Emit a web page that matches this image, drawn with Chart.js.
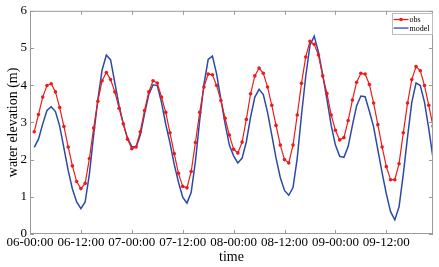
<!DOCTYPE html>
<html><head><meta charset="utf-8">
<script src="https://cdn.jsdelivr.net/npm/chart.js@4/dist/chart.umd.min.js"></script>
<style>html,body{margin:0;padding:0;background:#fff}#wrap{width:439px;height:267px;position:relative}canvas{display:block}</style>
</head><body><div id="wrap"><canvas id="c" width="439" height="267" style="width:439px;height:267px"></canvas></div>
<script>
const hours = [1,2,3,4,5,6,7,8,9,10,11,12,13,14,15,16,17,18,19,20,21,22,23,24,25,26,27,28,29,30,31,32,33,34,35,36,37,38,39,40,41,42,43,44,45,46,47,48,49,50,51,52,53,54,55,56,57,58,59,60,61,62,63,64,65,66,67,68,69,70,71,72,73,74,75,76,77,78,79,80,81,82,83,84,85,86,87,88,89,90,91,92,93,94,95];
const obs = [2.75,3.21,3.68,3.99,4.04,3.82,3.40,2.89,2.34,1.83,1.41,1.22,1.36,2.03,2.85,3.57,4.12,4.34,4.15,3.82,3.38,2.96,2.55,2.29,2.34,2.75,3.32,3.82,4.12,4.06,3.68,3.27,2.72,2.16,1.63,1.28,1.24,1.68,2.46,3.27,3.95,4.30,4.28,3.99,3.59,3.11,2.66,2.28,2.18,2.47,3.08,3.77,4.25,4.46,4.32,3.95,3.46,2.92,2.39,2.00,1.91,2.39,3.20,4.05,4.76,5.18,5.10,4.81,4.25,3.78,3.20,2.79,2.53,2.59,3.05,3.60,4.08,4.32,4.30,4.02,3.52,2.94,2.34,1.81,1.46,1.46,1.89,2.72,3.52,4.15,4.50,4.39,3.99,3.46,2.90];
const model = [2.33,2.55,2.96,3.32,3.42,3.29,2.90,2.31,1.71,1.21,0.86,0.68,0.86,1.61,2.66,3.62,4.41,4.81,4.68,4.06,3.45,2.96,2.57,2.35,2.33,2.66,3.23,3.75,4.01,3.99,3.54,2.95,2.45,1.87,1.39,0.99,0.83,1.12,1.96,3.05,4.02,4.69,4.78,4.30,3.62,2.96,2.39,2.10,1.91,2.04,2.48,3.14,3.68,3.89,3.75,3.27,2.66,2.04,1.52,1.17,1.04,1.25,2.04,3.20,4.24,5.07,5.32,4.89,4.28,3.62,2.92,2.39,2.09,2.06,2.35,2.92,3.45,3.71,3.69,3.30,2.88,2.26,1.65,1.08,0.60,0.38,0.73,1.61,2.61,3.54,4.06,3.99,3.54,2.83,2.04];
const tickHours = [0,12,24,36,48,60,72,84];
const tickLabels = ['06-00:00','06-12:00','07-00:00','07-12:00','08-00:00','08-12:00','09-00:00','09-12:00'];
const seriesNames = ['obs','model'];
const yTicks = [0,1,2,3,4,5,6];

const FONT = "'Liberation Serif','Times New Roman',serif";
const RED = '#ee1b1b';
const BLUE = '#2b4aa6';
const FRAME = '#9a9a9a';

const toXY = (ys) => hours.map((h, i) => ({x: h, y: ys[i]}));

const framePlugin = {
  id: 'frame',
  afterDraw(chart) {
    const {ctx, chartArea: a, scales: {x, y}} = chart;
    ctx.save();
    ctx.strokeStyle = FRAME;
    ctx.lineWidth = 1;
    ctx.strokeRect(a.left + 0.5, a.top + 0.5, a.right - a.left - 1, a.bottom - a.top - 1);
    const L = 4;
    ctx.beginPath();
    x.ticks.forEach(t => {
      const px = Math.round(x.getPixelForValue(t.value)) + 0.5;
      ctx.moveTo(px, a.bottom); ctx.lineTo(px, a.bottom - L);
      ctx.moveTo(px, a.top); ctx.lineTo(px, a.top + L);
    });
    y.ticks.forEach(t => {
      const py = Math.round(y.getPixelForValue(t.value)) + 0.5;
      ctx.moveTo(a.left, py); ctx.lineTo(a.left + L, py);
      ctx.moveTo(a.right, py); ctx.lineTo(a.right - L, py);
    });
    ctx.stroke();

    // legend box inside top-right of plot area
    const ds = chart.data.datasets;
    const bw = 40, rowH = 8.5;
    const bh = ds.length * rowH + 4;
    const bx = a.right - bw - 1.5, by = a.top + 2.5;
    ctx.fillStyle = '#fff';
    ctx.fillRect(bx, by, bw, bh);
    ctx.strokeStyle = '#bdbdbd';
    ctx.strokeRect(Math.round(bx) + 0.5, Math.round(by) + 0.5, bw, bh);
    ctx.font = '8px ' + FONT;
    ctx.textBaseline = 'middle';
    ctx.textAlign = 'left';
    ds.forEach((d, i) => {
      const cy = by + 2 + rowH * i + rowH / 2;
      ctx.strokeStyle = d.borderColor;
      ctx.lineWidth = 1.3;
      ctx.beginPath();
      ctx.moveTo(bx + 2, cy); ctx.lineTo(bx + 17, cy);
      ctx.stroke();
      if (d.pointRadius > 0) {
        ctx.fillStyle = d.pointBackgroundColor;
        ctx.beginPath();
        ctx.arc(bx + 9.5, cy, d.pointRadius, 0, Math.PI * 2);
        ctx.fill();
      }
      ctx.fillStyle = '#000';
      ctx.fillText(d.label, bx + 18, cy + 0.5);
    });
    ctx.restore();
  }
};

new Chart(document.getElementById('c'), {
  type: 'line',
  data: {
    datasets: [
      {label: seriesNames[0], data: toXY(obs), borderColor: RED, backgroundColor: RED,
       pointBackgroundColor: RED, pointBorderColor: RED, pointRadius: 1.8, pointBorderWidth: 0,
       borderWidth: 1.2, tension: 0, fill: false},
      {label: seriesNames[1], data: toXY(model), borderColor: BLUE, backgroundColor: BLUE,
       pointRadius: 0, borderWidth: 1.5, tension: 0, fill: false}
    ]
  },
  options: {
    responsive: false,
    animation: false,
    devicePixelRatio: 1,
    layout: {padding: {top: 5, right: 6, left: 0, bottom: 0}},
    plugins: {legend: {display: false}, tooltip: {enabled: false}},
    scales: {
      x: {
        type: 'linear', min: 0, max: 95,
        grid: {display: false, drawTicks: false},
        border: {display: false},
        afterBuildTicks: (s) => { s.ticks = tickHours.map(v => ({value: v})); },
        ticks: {autoSkip: false, maxRotation: 0, padding: 1, color: '#000',
          font: {family: FONT, size: 13},
          callback: (v) => { const i = tickHours.indexOf(v); return i >= 0 ? tickLabels[i] : ''; }},
        title: {display: true, text: 'time', color: '#000', font: {family: FONT, size: 14}, padding: {top: 0, bottom: 1}},
        afterFit: (s) => { s.height = 33; }
      },
      y: {
        min: 0, max: 6,
        grid: {display: false, drawTicks: false},
        border: {display: false},
        afterBuildTicks: (s) => { s.ticks = yTicks.map(v => ({value: v})); },
        ticks: {padding: 3, color: '#000', font: {family: FONT, size: 13}},
        title: {display: true, text: 'water elevation (m)', color: '#000', font: {family: FONT, size: 14}, padding: {top: 4.5, bottom: 0}},
        afterFit: (s) => { s.width = 30; }
      }
    }
  },
  plugins: [framePlugin]
});
</script>
</body></html>
